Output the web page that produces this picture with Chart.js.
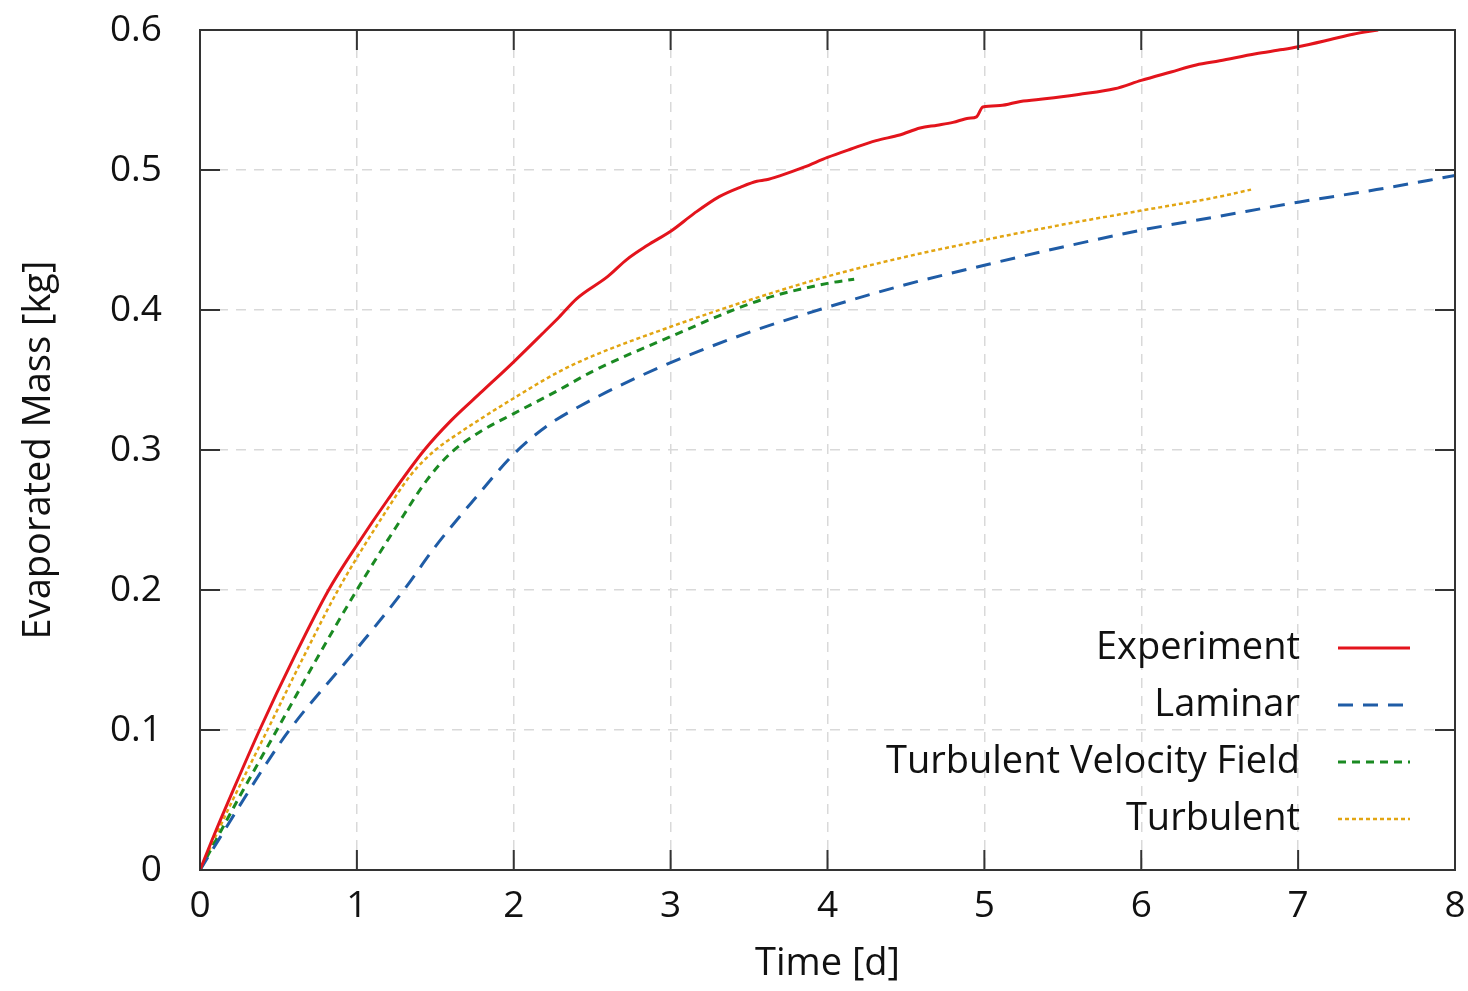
<!DOCTYPE html>
<html>
<head>
<meta charset="utf-8">
<script src="https://cdn.jsdelivr.net/npm/chart.js@4"></script>
<style>
  html, body { margin: 0; padding: 0; background: #fff; }
  #wrap { width: 1468px; height: 991px; position: relative; }
</style>
</head>
<body>
<div id="wrap"><canvas id="chart-evap"></canvas></div>
<script>
// ── data ──
const expT = [0,0.09,0.2,0.38,0.6,0.82,1.0,1.2,1.43,1.6,1.8,2.0,2.2,2.29,2.4,2.6,2.72,2.85,3.01,3.15,3.31,3.45,3.55,3.61,3.7,3.85,4.0,4.15,4.31,4.46,4.59,4.7,4.8,4.9,4.95,4.99,5.1,5.23,5.4,5.6,5.83,6.0,6.19,6.35,6.5,6.73,6.9,7.0,7.2,7.35,7.51];
const expM = [0,0.025,0.054,0.1,0.152,0.2,0.232,0.265,0.3,0.321,0.342,0.363,0.385,0.395,0.408,0.424,0.436,0.446,0.457,0.469,0.481,0.488,0.492,0.493,0.496,0.502,0.509,0.515,0.521,0.525,0.530,0.532,0.534,0.537,0.538,0.545,0.546,0.549,0.551,0.554,0.558,0.564,0.570,0.575,0.578,0.583,0.586,0.588,0.593,0.597,0.6];

const lamT = [0,0.4,0.57,1.0,1.3,1.5,1.75,2.0,2.21,2.5,2.93,3.5,4.0,4.46,5.0,5.5,6.0,6.5,7.0,7.5,8.0];
const lamM = [0,0.072,0.1,0.158,0.2,0.231,0.265,0.297,0.317,0.336,0.359,0.384,0.402,0.417,0.432,0.445,0.457,0.467,0.477,0.486,0.496];

const tvfT = [0,0.25,0.49,0.75,1.0,1.25,1.45,1.6,1.8,2.0,2.29,2.5,3.0,3.57,4.0,4.17];
const tvfM = [0,0.052,0.1,0.152,0.2,0.245,0.279,0.298,0.314,0.326,0.343,0.356,0.381,0.407,0.419,0.422];

const turT = [0,0.2,0.43,0.65,0.88,1.15,1.35,1.5,1.65,1.8,2.0,2.29,2.5,3.0,3.5,4.0,4.46,5.0,5.5,6.0,6.5,6.7];
const turM = [0,0.048,0.1,0.15,0.2,0.25,0.283,0.3,0.312,0.323,0.337,0.356,0.367,0.388,0.407,0.424,0.437,0.45,0.461,0.471,0.481,0.486];

const xTicks = [0,1,2,3,4,5,6,7,8];
const yTicks = [0,0.1,0.2,0.3,0.4,0.5,0.6];

const FONT = '"Open Sans", Lato, sans-serif';
const pts = (xs, ys) => xs.map((x, i) => ({ x, y: ys[i] }));

// frame, inward ticks on all four sides, and the key
const framePlugin = {
  id: 'frame',
  afterDatasetsDraw(chart) {
    const { ctx, chartArea: a, scales: { x, y } } = chart;
    ctx.save();
    ctx.strokeStyle = '#333';
    ctx.lineWidth = 2;
    ctx.strokeRect(a.left, a.top, a.right - a.left, a.bottom - a.top);
    const tl = 20;
    ctx.beginPath();
    xTicks.forEach(v => {
      const px = x.getPixelForValue(v);
      ctx.moveTo(px, a.bottom); ctx.lineTo(px, a.bottom - tl);
      ctx.moveTo(px, a.top);    ctx.lineTo(px, a.top + tl);
    });
    yTicks.forEach(v => {
      const py = y.getPixelForValue(v);
      ctx.moveTo(a.left, py);  ctx.lineTo(a.left + tl, py);
      ctx.moveTo(a.right, py); ctx.lineTo(a.right - tl, py);
    });
    ctx.stroke();

    // key, bottom right
    ctx.font = '38px ' + FONT;
    ctx.fillStyle = '#111';
    ctx.textAlign = 'right';
    ctx.textBaseline = 'middle';
    chart.data.datasets.forEach((ds, i) => {
      const ry = 648 + i * 57;
      ctx.fillText(ds.label, 1300, ry);
      ctx.beginPath();
      ctx.strokeStyle = ds.borderColor;
      ctx.lineWidth = ds.borderWidth;
      ctx.setLineDash(ds.borderDash || []);
      ctx.moveTo(1338, ry); ctx.lineTo(1410, ry);
      ctx.stroke();
    });
    ctx.restore();
  }
};

new Chart(document.getElementById('chart-evap'), {
  type: 'line',
  data: {
    datasets: [{
      label: 'Experiment',
      data: pts(expT, expM),
      borderColor: '#e3141c', borderWidth: 3,
    }, {
      label: 'Laminar',
      data: pts(lamT, lamM),
      borderColor: '#1f5ca6', borderWidth: 3, borderDash: [15, 10],
    }, {
      label: 'Turbulent Velocity Field',
      data: pts(tvfT, tvfM),
      borderColor: '#1a8a22', borderWidth: 3, borderDash: [8, 6],
    }, {
      label: 'Turbulent',
      data: pts(turT, turM),
      borderColor: '#e2a512', borderWidth: 2.5, borderDash: [4, 3],
    }]
  },
  options: {
    responsive: true, maintainAspectRatio: false, animation: false,
    elements: { point: { radius: 0 }, line: { cubicInterpolationMode: 'monotone', fill: false } },
    layout: { padding: { top: 30, right: 13, left: 0, bottom: 0 } },
    plugins: { legend: { display: false }, tooltip: { enabled: false } },
    scales: {
      x: {
        type: 'linear', min: 0, max: 8,
        afterFit: s => { s.height = 121; s.paddingLeft = 0; s.paddingRight = 0; },
        afterBuildTicks: s => { s.ticks = xTicks.map(v => ({ value: v })); },
        grid: { color: '#d9d9d9', lineWidth: 1.5, tickLength: 0, drawTicks: false },
        border: { display: false, dash: [10, 8] },
        ticks: { padding: 14, color: '#111', font: { family: FONT, size: 37 } },
        title: { display: true, text: 'Time [d]', color: '#111', padding: { top: 4 }, font: { family: FONT, size: 38 } }
      },
      y: {
        min: 0, max: 0.6,
        afterFit: s => { s.width = 200; s.paddingTop = 0; s.paddingBottom = 0; },
        afterBuildTicks: s => { s.ticks = yTicks.map(v => ({ value: v })); },
        grid: { color: '#d9d9d9', lineWidth: 1.5, tickLength: 0, drawTicks: false },
        border: { display: false, dash: [10, 8] },
        ticks: { padding: 38, color: '#111', font: { family: FONT, size: 37 }, callback: v => String(Math.round(v * 10) / 10) },
        title: { display: true, text: 'Evaporated Mass [kg]', color: '#111', padding: { top: 16, bottom: 0 }, font: { family: FONT, size: 38 } }
      }
    }
  },
  plugins: [framePlugin]
});
</script>
</body>
</html>
